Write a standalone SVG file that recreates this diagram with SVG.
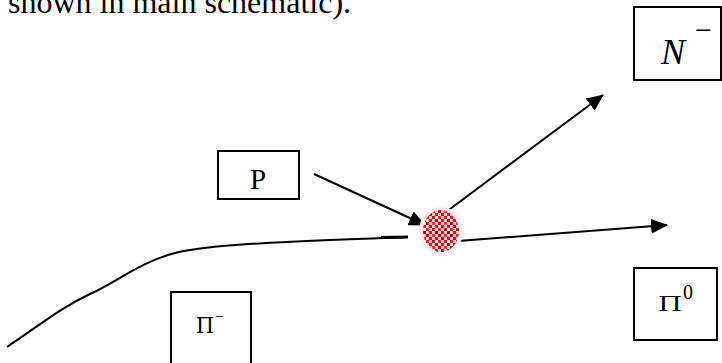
<svg xmlns="http://www.w3.org/2000/svg" width="722" height="363" viewBox="0 0 722 363">
<style>
.box{fill:#fff;stroke:#000;stroke-width:2}
.ln{fill:none;stroke:#000;stroke-width:2}
.serif{font-family:"Liberation Serif","Times New Roman",serif;fill:#000}
.pi{font-family:"DejaVu Serif","Liberation Serif",serif;fill:#000;font-weight:normal}
</style>
<defs>
<marker id="ah" markerWidth="17" markerHeight="15" refX="16" refY="7.5" orient="auto" markerUnits="userSpaceOnUse">
<path d="M0,0 L17,7.5 L0,15 Z" fill="#000"/>
</marker>
<pattern id="px" width="12" height="12" patternUnits="userSpaceOnUse">
<rect width="12" height="12" fill="#f4c4ca"/>
<rect x="0" y="0" width="3" height="3" fill="#b5121b"/>
<rect x="6" y="0" width="3" height="3" fill="#d8232e"/>
<rect x="3" y="3" width="3" height="3" fill="#9e0f17"/>
<rect x="9" y="3" width="3" height="3" fill="#c81d28"/>
<rect x="0" y="6" width="3" height="3" fill="#e03440"/>
<rect x="6" y="6" width="3" height="3" fill="#a8101a"/>
<rect x="3" y="9" width="3" height="3" fill="#cc1f2a"/>
<rect x="9" y="9" width="3" height="3" fill="#b01520"/>
<rect x="3" y="0" width="3" height="3" fill="#fbe5e7"/>
<rect x="9" y="6" width="3" height="3" fill="#f2b7bd"/>
</pattern>
</defs>
<rect width="722" height="363" fill="#fff"/>
<text class="serif" x="8" y="13" font-size="32">shown in main schematic).</text>
<g id="connectors">
<path class="ln" d="M7,347 C40,325 60,308 90,294 C115,283 140,262 175,253 C210,244 300,241 408,237"/>
<line x1="381" y1="237.5" x2="408" y2="237" stroke="#000" stroke-width="3"/>
<line class="ln" x1="314" y1="174" x2="425" y2="225" marker-end="url(#ah)"/>
<line class="ln" x1="442" y1="215" x2="603" y2="95" marker-end="url(#ah)"/>
<line class="ln" x1="458" y1="241" x2="667" y2="225" marker-end="url(#ah)"/>
</g>
<g id="collision">
<ellipse cx="441" cy="231" rx="22" ry="24" fill="#fdecee"/>
<ellipse cx="441" cy="231" rx="18" ry="21" fill="url(#px)"/>
</g>
<g id="node-N">
<rect class="box" x="634" y="7" width="87" height="73"/>
<text class="serif" x="661" y="64" font-size="36" font-style="italic">N</text>
<text class="serif" x="695" y="40" font-size="30">−</text>
</g>
<g id="node-P">
<rect class="box" x="218" y="151" width="81" height="48"/>
<text class="serif" x="258" y="189" font-size="29" text-anchor="middle">P</text>
</g>
<g id="node-pi0">
<rect class="box" x="634" y="268" width="83" height="72"/>
<text class="pi" x="658" y="311" font-size="20" textLength="24" lengthAdjust="spacingAndGlyphs">Π</text>
<text class="serif" x="683" y="299" font-size="20">0</text>
</g>
<g id="node-piminus">
<rect class="box" x="171" y="292" width="80" height="75"/>
<text class="pi" x="196" y="333" font-size="22" textLength="18" lengthAdjust="spacingAndGlyphs">Π</text>
<text class="serif" x="215" y="322" font-size="16">−</text>
</g>
</svg>
